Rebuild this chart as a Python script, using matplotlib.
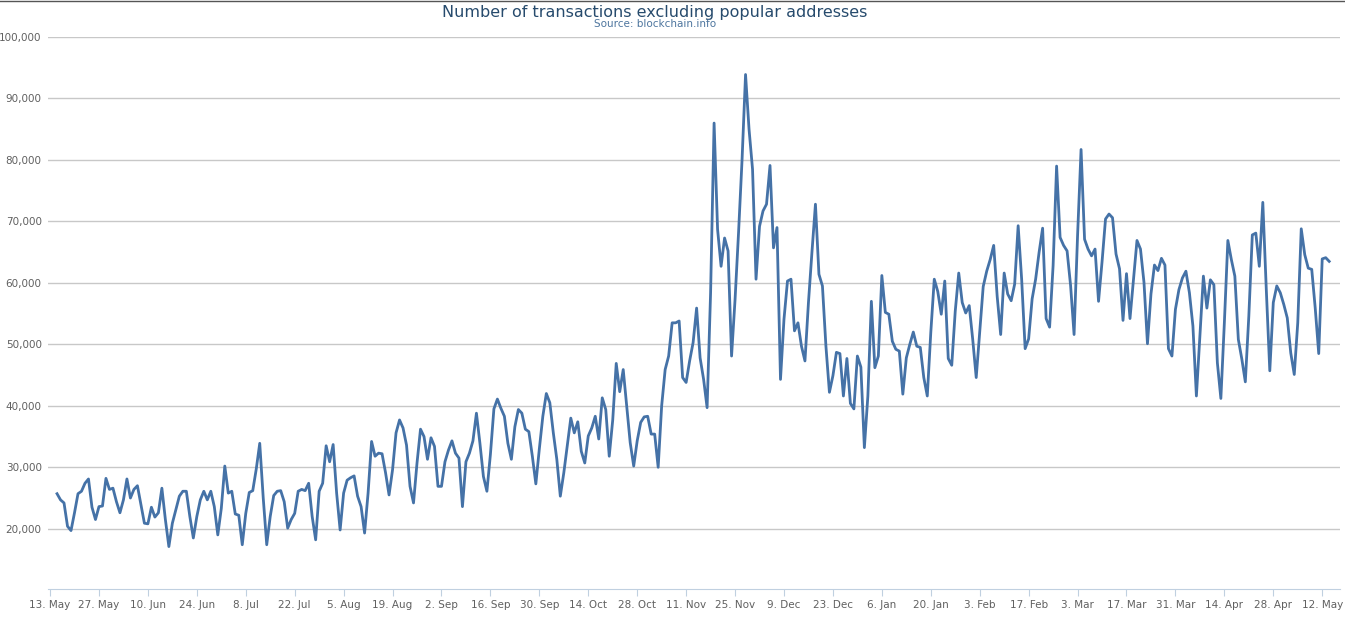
import numpy as np
import pandas as pd
import matplotlib
matplotlib.use("Agg")
import matplotlib.pyplot as plt

# daily values (thousands of transactions)
seg_may_aug = [25.7, 24.7, 24.2, 20.4, 19.7, 22.6, 25.7, 26.1, 27.4, 28.1, 23.5, 21.5, 23.6, 23.7,
               28.2, 26.4, 26.6, 24.4, 22.6, 24.7, 28.1, 25, 26.4, 27.0, 23.9, 20.9, 20.8, 23.5,
               21.9, 22.6, 26.6, 21.5, 17.1, 20.9, 23.1, 25.3, 26.1, 26.1, 22, 18.5, 22, 24.7,
               26.1, 24.7, 26.1, 23.6, 19, 23.3, 30.2, 25.8, 26.1, 22.4, 22.2, 17.4, 22.5, 25.9,
               26.2, 29.7, 33.9, 25, 17.4, 22, 25.4, 26.1, 26.2, 24.4, 20.1, 21.5, 22.5, 26.1,
               26.4, 26.2, 27.4, 22, 18.2, 26.1, 27.4, 33.5, 30.9, 33.7]
seg_aug_oct = [25.8, 19.8, 25.8, 27.9, 28.3, 28.6, 25.3, 23.6, 19.3, 25.8, 34.2, 31.8, 32.3, 32.2,
               29.1, 25.5, 29.6, 35.6, 37.7, 36.4, 33.6, 26.9, 24.2, 30.7, 36.2, 35, 31.3, 34.8,
               33.4, 26.9, 26.9, 30.9, 32.8, 34.3, 32.3, 31.5, 23.6, 30.9, 32.3, 34.3, 38.8, 33.9,
               28.5, 26.1, 32.1, 39.5, 41.1, 39.6, 38.3, 33.9, 31.3, 36.6, 39.4, 38.8, 36.2, 35.8,
               31.8, 27.3, 33, 38.3, 42, 40.5, 35.6, 31.3, 25.3, 29.1, 33.6, 38, 35.6, 37.4,
               32.6, 30.7, 35.1, 36.4, 38.3, 34.6, 41.3, 39.4, 31.8, 37.7, 46.9, 42.3, 45.9]
seg_oct_dec = [40, 34, 30.2, 34.3, 37.3, 38.2, 38.3, 35.4, 35.4, 30, 40, 45.9, 48.1, 53.5, 53.5,
               53.8, 44.6, 43.8, 47.3, 50.3, 55.9, 47.8, 44.3, 39.7, 58.4, 86, 68.7, 62.7, 67.3,
               65.2, 48.1, 57.3, 68.2, 80, 93.9, 85, 78.5, 60.6, 69.2, 71.7, 72.8, 79.1, 65.7,
               69, 44.3, 54.1, 60.3, 60.6, 52.2, 53.5, 49.7, 47.3, 56.8, 65, 72.8, 61.4, 59.5,
               49.7, 42.2, 44.9, 48.7]
seg_dec_feb = [48.5, 41.6, 47.7, 40.4, 39.5, 48.1, 46.3, 33.2, 41.6, 57, 46.2, 48.1, 61.2, 55.2,
               54.9, 50.5, 49.2, 48.9, 41.9, 47.8, 50, 52, 49.7, 49.5, 44.6, 41.6, 51.9, 60.6,
               58.6, 54.9, 60.3, 47.7, 46.6, 55.4, 61.6, 56.8, 55.1, 56.3, 50.8, 44.6, 51.9, 59.4,
               61.9, 63.8, 66.1, 57.8, 51.6, 61.6]
seg_feb_apr = [58.2, 57.1, 59.8, 69.3, 60.6, 49.3, 50.9, 57.4, 60.6, 65, 68.9, 54.2, 52.8, 62.8,
               79, 67.4, 66.1, 65.2, 59.6, 51.6, 67.7, 81.7, 67.1, 65.5, 64.4, 65.5, 57, 63.4,
               70.4, 71.2, 70.6, 64.7, 62.3, 53.9, 61.5, 54.2, 60.6, 66.9, 65.5, 60.1, 50.1, 58.2,
               62.9, 62, 64, 62.9, 49.3]
seg_apr_may = [48.1, 55.7, 58.9, 60.8, 61.9, 58.4, 53, 41.6, 51.4, 61.1, 55.9, 60.5, 59.7, 47,
               41.2, 53.5, 66.9, 63.8, 61.1, 50.8, 47.6, 43.9, 54.6, 67.8, 68.1, 62.7, 73.1, 58.9,
               45.7, 56.8, 59.5, 58.4, 56.5, 54.3, 48.6, 45.1, 53.5, 68.8, 64.6, 62.4, 62.2, 55.9,
               48.5, 63.9, 64.1, 63.5]

values = np.array(seg_may_aug + seg_aug_oct + seg_oct_dec + seg_dec_feb + seg_feb_apr + seg_apr_may) * 1000
dates = pd.date_range(end="2014-05-14", periods=len(values), freq="D")

tick_dates = pd.date_range("2013-05-13", "2014-05-12", freq="14D")
tick_labels = [f"{d.day}. {d.strftime('%b')}" for d in tick_dates]
y_ticks = [20000, 30000, 40000, 50000, 60000, 70000, 80000, 90000, 100000]

fig = plt.figure(figsize=(13.45, 6.17), dpi=100)
ax = fig.add_axes([48 / 1345, 0.0454, 1292 / 1345, 0.8946])

ax.plot(dates, values, color="#4572A7", lw=2, solid_joinstyle="round")

start = pd.Timestamp("2013-05-13") - pd.Timedelta(hours=14)
ax.set_xlim(start, start + pd.Timedelta(days=1292 / 3.495))
ax.set_ylim(10200, 100000)
ax.set_yticks(y_ticks)
ax.set_yticklabels([f"{v:,}" for v in y_ticks], fontsize=7.5, color="#606060")
ax.set_xticks(tick_dates)
ax.set_xticklabels(tick_labels, fontsize=7.5, color="#606060")
ax.grid(axis="y", color="#C8C8C8", lw=1)
ax.set_axisbelow(True)
for s in ["top", "right", "left"]:
    ax.spines[s].set_visible(False)
ax.spines["bottom"].set_color("#C0D0E0")
ax.tick_params(axis="x", colors="#C0D0E0", length=5, pad=3, labelcolor="#606060")
ax.tick_params(axis="y", length=0, pad=4.5)

ax.set_ylabel("Number of Transactions", fontsize=7.5, color="#4d759e", fontweight="bold")
ax.yaxis.set_label_coords(-46 / 1292, 0.5)

fig.text(0.487, 0.972, "Number of transactions excluding popular addresses",
         ha="center", fontsize=11.5, color="#274b6d")
fig.text(0.487, 0.956, "Source: blockchain.info", ha="center", fontsize=7.5, color="#4d759e")
fig.add_artist(plt.Line2D([0, 1], [0.998, 0.998], color="#555555", lw=1))

fig.savefig("out.png", dpi=100)
